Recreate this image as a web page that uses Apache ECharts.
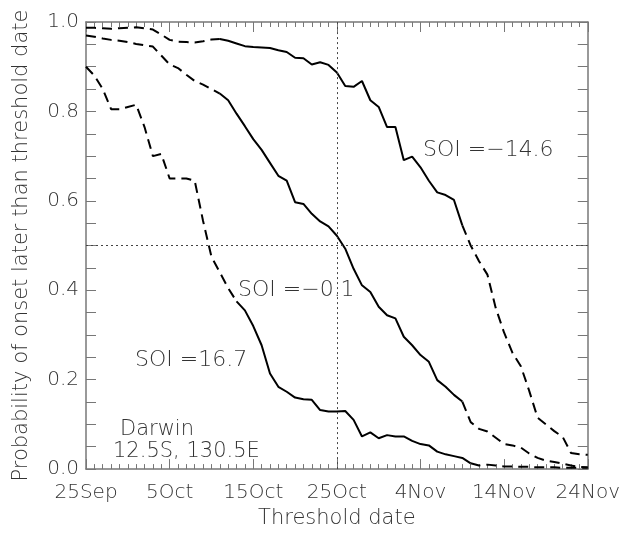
<!DOCTYPE html>
<html>
<head>
<meta charset="utf-8">
<style>
  html, body { margin: 0; padding: 0; background: #fff; }
  #chart { width: 623px; height: 534px; }
</style>
<script src="https://cdn.jsdelivr.net/npm/echarts@6/dist/echarts.min.js"></script>
</head>
<body>
<div id="chart"></div>
<script>
// days since 25 Sep (0..60)
const dayTickLabels = ['25Sep', '5Oct', '15Oct', '25Oct', '4Nov', '14Nov', '24Nov'];

// probability of onset later than threshold date, one value per day
const soiPos167 = [0.90, 0.88, 0.85, 0.805, 0.805, 0.81, 0.815, 0.765, 0.70, 0.705,
  0.65, 0.65, 0.65, 0.645, 0.555, 0.475, 0.44, 0.405, 0.375, 0.355,
  0.32, 0.277, 0.214, 0.184, 0.173, 0.16, 0.156, 0.155, 0.132, 0.129,
  0.129, 0.13, 0.11, 0.073, 0.082, 0.069, 0.076, 0.073, 0.073, 0.063,
  0.056, 0.053, 0.039, 0.033, 0.029, 0.025, 0.013, 0.008, 0.01, 0.008,
  0.006, 0.006, 0.005, 0.005, 0.004, 0.004, 0.004, 0.003, 0.003, 0.003, 0.003];

const soiNeg01 = [0.97, 0.967, 0.963, 0.96, 0.958, 0.955, 0.951, 0.948, 0.945, 0.925,
  0.905, 0.897, 0.882, 0.868, 0.86, 0.85, 0.84, 0.825, 0.795, 0.767,
  0.738, 0.714, 0.685, 0.656, 0.645, 0.597, 0.593, 0.571, 0.554, 0.543,
  0.522, 0.493, 0.448, 0.411, 0.396, 0.363, 0.344, 0.337, 0.296, 0.277,
  0.255, 0.24, 0.199, 0.184, 0.166, 0.151, 0.105, 0.09, 0.084, 0.07,
  0.056, 0.053, 0.048, 0.035, 0.025, 0.019, 0.016, 0.012, 0.008, 0.005, 0.004];

const soiNeg146 = [0.987, 0.987, 0.986, 0.985, 0.986, 0.987, 0.988, 0.986, 0.983, 0.972,
  0.96, 0.956, 0.955, 0.954, 0.957, 0.961, 0.962, 0.958, 0.952, 0.946,
  0.944, 0.943, 0.942, 0.937, 0.933, 0.92, 0.919, 0.905, 0.91, 0.904,
  0.887, 0.857, 0.855, 0.868, 0.825, 0.81, 0.765, 0.765, 0.691, 0.699,
  0.675, 0.645, 0.619, 0.613, 0.602, 0.545, 0.50, 0.465, 0.435, 0.36,
  0.305, 0.26, 0.23, 0.175, 0.115, 0.10, 0.085, 0.072, 0.036, 0.033, 0.032];

// day index range drawn solid (rest dashed)
const solidRange167 = [18, 46];
const solidRange01 = [16, 45];
const solidRange146 = [16, 45];

const refDay = 30;     // 25Oct
const refProb = 0.5;

const FONT = 'DejaVu Sans';
const WEIGHT = 200;
const TEXT_COLOR = '#333';
const AXIS_COLOR = '#777';

function part(values, range, solid) {
  return values.map((v, i) => {
    const inside = i >= range[0] && i <= range[1];
    const edge = i === range[0] || i === range[1];
    if (solid) return inside ? [i, v] : [i, null];
    return (!inside || edge) ? [i, v] : [i, null];
  });
}

function curveSeries(values, range) {
  return [
    {
      type: 'line', data: part(values, range, false), showSymbol: false, silent: true,
      lineStyle: { color: '#000', width: 2, type: [10, 6] }
    },
    {
      type: 'line', data: part(values, range, true), showSymbol: false, silent: true,
      lineStyle: { color: '#000', width: 2 }
    }
  ];
}

function xAxisCfg(pos, labels) {
  return {
    type: 'value', position: pos, min: 0, max: 60, interval: 10,
    axisLine: { show: true, onZero: false, lineStyle: { color: AXIS_COLOR, width: 1.5 } },
    axisTick: { show: true, inside: true, length: 10, lineStyle: { color: AXIS_COLOR, width: 1 } },
    minorTick: { show: true, splitNumber: 10, length: 5, lineStyle: { color: AXIS_COLOR, width: 1 } },
    splitLine: { show: false },
    minorSplitLine: { show: false },
    axisLabel: {
      show: labels, margin: 14, color: TEXT_COLOR, fontFamily: FONT, fontWeight: WEIGHT, fontSize: 20,
      formatter: v => dayTickLabels[Math.round(v / 10)]
    },
    name: labels ? 'Threshold date' : '',
    nameLocation: 'middle', nameGap: 32,
    nameTextStyle: { color: TEXT_COLOR, fontFamily: FONT, fontWeight: WEIGHT, fontSize: 21 }
  };
}

function yAxisCfg(pos, labels) {
  return {
    type: 'value', position: pos, min: 0, max: 1, interval: 0.2,
    axisLine: { show: true, onZero: false, lineStyle: { color: AXIS_COLOR, width: 1.5 } },
    axisTick: { show: true, inside: true, length: 10, lineStyle: { color: AXIS_COLOR, width: 1 } },
    minorTick: { show: true, splitNumber: 4, length: 10, lineStyle: { color: AXIS_COLOR, width: 1 } },
    splitLine: { show: false },
    minorSplitLine: { show: false },
    axisLabel: {
      show: labels, margin: 7, color: TEXT_COLOR, fontFamily: FONT, fontWeight: WEIGHT, fontSize: 20,
      formatter: v => v.toFixed(1)
    },
    name: labels ? 'Probability of onset later than threshold date' : '',
    nameLocation: 'middle', nameGap: 54,
    nameTextStyle: { color: TEXT_COLOR, fontFamily: FONT, fontWeight: WEIGHT, fontSize: 21 }
  };
}

function label(text, x, y, size) {
  return {
    type: 'text', x: x, y: y, silent: true,
    style: {
      text: text, fill: TEXT_COLOR, fontFamily: FONT, fontWeight: WEIGHT, fontSize: size,
      align: 'left', verticalAlign: 'middle'
    }
  };
}

const chart = echarts.init(document.getElementById('chart'), null, { renderer: 'canvas' });

const series = [
  ...curveSeries(soiPos167, solidRange167),
  ...curveSeries(soiNeg01, solidRange01),
  ...curveSeries(soiNeg146, solidRange146)
];

series[0].markLine = {
  silent: true, symbol: 'none', label: { show: false },
  lineStyle: { color: '#444', type: [2, 3], width: 1 },
  data: [{ xAxis: refDay }, { yAxis: refProb }]
};

chart.setOption({
  animation: false,
  backgroundColor: '#fff',
  grid: { left: 86, right: 31, top: 22, bottom: 63 },
  xAxis: [xAxisCfg('bottom', true), xAxisCfg('top', false)],
  yAxis: [yAxisCfg('left', true), yAxisCfg('right', false)],
  series: series,
  graphic: [
    label('SOI =\u221214.6', 423, 150, 22),
    label('SOI =\u22120.1', 238, 290, 22),
    label('SOI =16.7', 135, 360, 22),
    label('Darwin', 120, 430, 21),
    label('12.5S, 130.5E', 113, 452, 21)
  ]
});
</script>
</body>
</html>
